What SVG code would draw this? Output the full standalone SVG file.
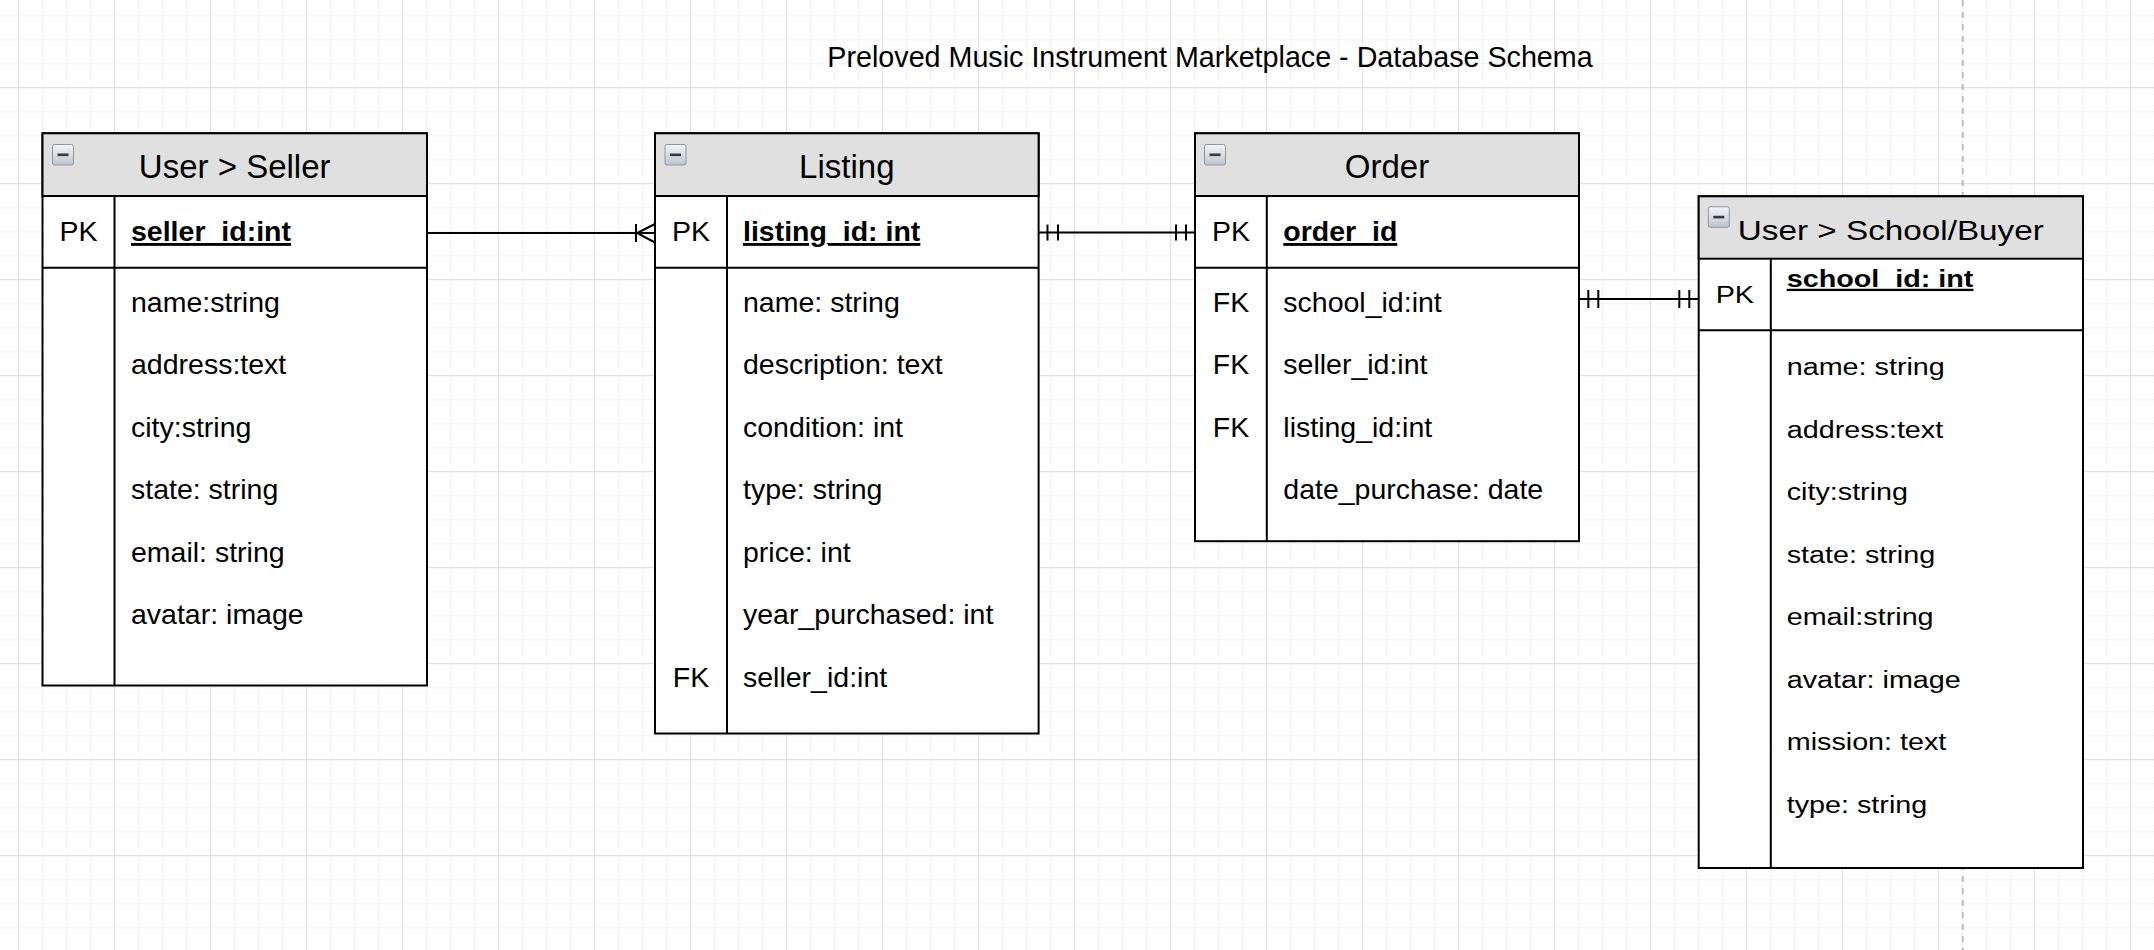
<svg xmlns="http://www.w3.org/2000/svg" width="2154" height="950" viewBox="0 0 2154 950">
<style>
text{font-family:"Liberation Sans",Arial,Helvetica,sans-serif;fill:#000}
.hd{font-size:33px;text-anchor:middle}
.t{font-size:28.5px}
.k{font-size:28.5px;text-anchor:middle}
.pk{font-size:28.5px;font-weight:bold;text-decoration:underline}
.bt{font-size:23px}
.bk{font-size:23px;text-anchor:middle}
.bpk{font-size:23px;font-weight:bold;text-decoration:underline}
.bhd{font-size:27.5px;text-anchor:middle}
.box{fill:#fff;stroke:#000;stroke-width:2}
.hdr{fill:#e0e0e0;stroke:#000;stroke-width:2}
.ln{stroke:#000;stroke-width:2;fill:none}
.ico{fill:url(#icog);stroke:#8a98a8;stroke-width:1}
.mn{fill:#3a3a3a}
</style>
<defs>
<linearGradient id="icog" x1="0" y1="0" x2="0" y2="1">
<stop offset="0" stop-color="#f4f6f8"/>
<stop offset="1" stop-color="#bfc5cc"/>
</linearGradient>
<pattern id="grid" patternUnits="userSpaceOnUse" x="17.8" y="87.2" width="96" height="96">
<rect x="24" y="0" width="1.2" height="96" fill="#f3f3f3"/>
<rect x="48" y="0" width="1.2" height="96" fill="#f3f3f3"/>
<rect x="72" y="0" width="1.2" height="96" fill="#f3f3f3"/>
<rect x="0" y="24" width="96" height="1.2" fill="#f3f3f3"/>
<rect x="0" y="48" width="96" height="1.2" fill="#f3f3f3"/>
<rect x="0" y="72" width="96" height="1.2" fill="#f3f3f3"/>
<rect x="0" y="0" width="1" height="96" fill="#dadada"/>
<rect x="0" y="0" width="96" height="1" fill="#dadada"/>
</pattern>
</defs>
<rect x="0" y="0" width="2154" height="950" fill="#fff"/>
<rect x="0" y="0" width="2154" height="950" fill="url(#grid)"/>
<line x1="1962.7" y1="0" x2="1962.7" y2="950" stroke="#c0c0c0" stroke-width="2.2" stroke-dasharray="6 6"/>

<g id="title">
<text x="1210" y="66.7" style="font-size:28.7px" text-anchor="middle">Preloved Music Instrument Marketplace - Database Schema</text>
</g>

<g id="connectors">
<g id="seller-listing">
<line class="ln" x1="427" y1="233" x2="655" y2="233"/>
<line class="ln" x1="636" y1="224" x2="636" y2="242"/>
<polyline class="ln" points="655,224 637,233 655,242.5"/>
</g>
<g id="listing-order">
<line class="ln" x1="1038.6" y1="232.6" x2="1195" y2="232.6"/>
<line class="ln" x1="1047.5" y1="224.6" x2="1047.5" y2="240.6"/>
<line class="ln" x1="1058" y1="224.6" x2="1058" y2="240.6"/>
<line class="ln" x1="1176" y1="224.6" x2="1176" y2="240.6"/>
<line class="ln" x1="1186" y1="224.6" x2="1186" y2="240.6"/>
</g>
<g id="order-buyer">
<line class="ln" x1="1579" y1="299" x2="1698.7" y2="299"/>
<line class="ln" x1="1588.3" y1="290" x2="1588.3" y2="308"/>
<line class="ln" x1="1598.3" y1="290" x2="1598.3" y2="308"/>
<line class="ln" x1="1679.3" y1="290" x2="1679.3" y2="308"/>
<line class="ln" x1="1689.3" y1="290" x2="1689.3" y2="308"/>
</g>
</g>

<g id="seller">
<rect class="box" x="42.5" y="133.3" width="384.5" height="552.2"/>
<rect class="hdr" x="42.5" y="133.3" width="384.5" height="62.7"/>
<line class="ln" x1="42.5" y1="267.7" x2="427" y2="267.7"/>
<line class="ln" x1="114.5" y1="196" x2="114.5" y2="685.5"/>
<rect class="ico" x="52.5" y="144.5" width="21" height="20.5" rx="2"/>
<rect class="mn" x="57.5" y="153.5" width="11" height="2.6"/>
<text class="hd" x="234.7" y="178">User &gt; Seller</text>
<text class="k" x="78.5" y="241">PK</text>
<text class="pk" x="131" y="241">seller_id:int</text>
<text class="t" x="131" y="311.7">name:string</text>
<text class="t" x="131" y="374.2">address:text</text>
<text class="t" x="131" y="436.7">city:string</text>
<text class="t" x="131" y="499.2">state: string</text>
<text class="t" x="131" y="561.7">email: string</text>
<text class="t" x="131" y="624.2">avatar: image</text>
</g>

<g id="listing">
<rect class="box" x="655" y="133.3" width="383.6" height="600.2"/>
<rect class="hdr" x="655" y="133.3" width="383.6" height="62.7"/>
<line class="ln" x1="655" y1="267.7" x2="1038.6" y2="267.7"/>
<line class="ln" x1="727" y1="196" x2="727" y2="733.5"/>
<rect class="ico" x="665" y="144.5" width="21" height="20.5" rx="2"/>
<rect class="mn" x="670" y="153.5" width="11" height="2.6"/>
<text class="hd" x="846.8" y="178">Listing</text>
<text class="k" x="691" y="241">PK</text>
<text class="pk" x="743" y="241">listing_id: int</text>
<text class="t" x="743" y="311.7">name: string</text>
<text class="t" x="743" y="374.2">description: text</text>
<text class="t" x="743" y="436.7">condition: int</text>
<text class="t" x="743" y="499.2">type: string</text>
<text class="t" x="743" y="561.7">price: int</text>
<text class="t" x="743" y="624.2">year_purchased: int</text>
<text class="k" x="691" y="686.7">FK</text>
<text class="t" x="743" y="686.7">seller_id:int</text>
</g>

<g id="order">
<rect class="box" x="1195" y="133.3" width="384" height="407.9"/>
<rect class="hdr" x="1195" y="133.3" width="384" height="62.7"/>
<line class="ln" x1="1195" y1="267.7" x2="1579" y2="267.7"/>
<line class="ln" x1="1266.8" y1="196" x2="1266.8" y2="541.2"/>
<rect class="ico" x="1204.5" y="144.5" width="21" height="20.5" rx="2"/>
<rect class="mn" x="1209.5" y="153.5" width="11" height="2.6"/>
<text class="hd" x="1387" y="178">Order</text>
<text class="k" x="1231" y="241">PK</text>
<text class="pk" x="1283.3" y="241">order_id</text>
<text class="k" x="1231" y="311.7">FK</text>
<text class="t" x="1283.3" y="311.7">school_id:int</text>
<text class="k" x="1231" y="374.2">FK</text>
<text class="t" x="1283.3" y="374.2">seller_id:int</text>
<text class="k" x="1231" y="436.7">FK</text>
<text class="t" x="1283.3" y="436.7">listing_id:int</text>
<text class="t" x="1283.3" y="499.2">date_purchase: date</text>
</g>

<g id="buyer">
<rect class="box" x="1698.7" y="196.3" width="384.3" height="671.7"/>
<rect class="hdr" x="1698.7" y="196.3" width="384.3" height="62.4"/>
<line class="ln" x1="1698.7" y1="330.2" x2="2083" y2="330.2"/>
<line class="ln" x1="1770.8" y1="258.7" x2="1770.8" y2="868"/>
<rect class="ico" x="1708.3" y="206.8" width="21" height="20.5" rx="2"/>
<rect class="mn" x="1713.3" y="215.8" width="11" height="2.6"/>
<text class="bhd" transform="translate(1890.8,239.5) scale(1.21,1)">User &gt; School/Buyer</text>
<text class="bk" transform="translate(1734.8,302.7) scale(1.25,1)">PK</text>
<text class="bpk" transform="translate(1786.7,287) scale(1.25,1)">school_id: int</text>
<text class="bt" transform="translate(1786.7,375) scale(1.25,1)">name: string</text>
<text class="bt" transform="translate(1786.7,437.5) scale(1.25,1)">address:text</text>
<text class="bt" transform="translate(1786.7,500) scale(1.25,1)">city:string</text>
<text class="bt" transform="translate(1786.7,562.5) scale(1.25,1)">state: string</text>
<text class="bt" transform="translate(1786.7,625) scale(1.25,1)">email:string</text>
<text class="bt" transform="translate(1786.7,687.5) scale(1.25,1)">avatar: image</text>
<text class="bt" transform="translate(1786.7,750) scale(1.25,1)">mission: text</text>
<text class="bt" transform="translate(1786.7,812.5) scale(1.25,1)">type: string</text>
</g>
</svg>
